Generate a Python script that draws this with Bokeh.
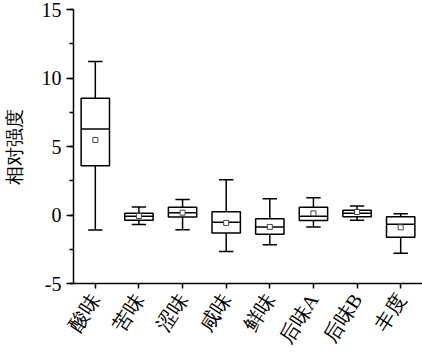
from bokeh.plotting import figure
from bokeh.models import FixedTicker, SingleIntervalTicker, Range1d, ColumnDataSource
from bokeh.embed import file_html
from bokeh.resources import INLINE
import numpy as np

categories = ["酸味", "苦味", "涩味", "咸味", "鲜味", "后味A", "后味B", "丰度"]
whisker_high = [11.2, 0.58, 1.14, 2.57, 1.19, 1.26, 0.65, 0.10]
q3 = [8.53, 0.12, 0.56, 0.24, -0.27, 0.56, 0.34, -0.12]
median = [6.28, -0.09, 0.17, -0.53, -0.87, -0.10, 0.12, -0.68]
mean = [5.48, -0.07, 0.17, -0.58, -0.87, 0.12, 0.22, -0.90]
q1 = [3.59, -0.39, -0.15, -1.31, -1.41, -0.41, -0.12, -1.62]
whisker_low = [-1.10, -0.70, -1.07, -2.67, -2.18, -0.87, -0.39, -2.79]
y_ticks = [-5, 0, 5, 10, 15]
y_tick_labels = ["-5", "0", "5", "10", "15"]

xs = np.arange(1, len(categories) + 1)
box_w = 0.65
cap_w = 0.33

src = ColumnDataSource(dict(
    x=xs, q1=q1, q3=q3, med=median, mean=mean, lo=whisker_low, hi=whisker_high,
    bl=xs - box_w / 2, br=xs + box_w / 2, cl=xs - cap_w / 2, cr=xs + cap_w / 2,
))

FONT = "'Liberation Serif'"

p = figure(width=422, height=356, output_backend="svg", toolbar_location=None,
           x_range=Range1d(0.5, 8.5), y_range=Range1d(-5, 15),
           min_border_left=67, min_border_right=0, min_border_top=9, min_border_bottom=73)
p.outline_line_color = None
p.xgrid.visible = False
p.ygrid.visible = False
p.background_fill_color = "white"
p.border_fill_color = "white"

lw = 1.5
p.segment(x0="x", y0="q3", x1="x", y1="hi", source=src, line_color="black", line_width=lw)
p.segment(x0="x", y0="q1", x1="x", y1="lo", source=src, line_color="black", line_width=lw)
p.segment(x0="cl", y0="hi", x1="cr", y1="hi", source=src, line_color="black", line_width=lw)
p.segment(x0="cl", y0="lo", x1="cr", y1="lo", source=src, line_color="black", line_width=lw)
p.quad(left="bl", right="br", bottom="q1", top="q3", source=src,
       fill_color="white", line_color="black", line_width=lw)
p.segment(x0="bl", y0="med", x1="br", y1="med", source=src, line_color="black", line_width=lw)
p.scatter(x="x", y="mean", source=src, marker="square", size=5,
          fill_color="white", line_color="#444444", line_width=1)

xa = p.xaxis[0]
xa.ticker = FixedTicker(ticks=list(xs))
xa.major_label_overrides = {int(i): c for i, c in zip(xs, categories)}
xa.major_label_orientation = np.deg2rad(57)
xa.minor_tick_line_color = None
xa.major_tick_out = 5
xa.major_tick_in = 0
xa.major_label_text_font = FONT
xa.major_label_text_font_size = "20px"
xa.major_label_text_color = "black"
xa.major_label_standoff = 7
xa.axis_line_width = 1.5
xa.major_tick_line_width = 1.5

ya = p.yaxis[0]
ya.ticker = SingleIntervalTicker(interval=5, num_minor_ticks=2)
ya.major_label_overrides = {t: s for t, s in zip(y_ticks, y_tick_labels)}
ya.major_tick_out = 7
ya.major_tick_in = 0
ya.minor_tick_out = 4
ya.minor_tick_in = 0
ya.major_label_text_font = FONT
ya.major_label_text_font_size = "20px"
ya.major_label_text_color = "black"
ya.major_label_standoff = 5
ya.axis_label = "相对强度"
ya.axis_label_text_font = FONT
ya.axis_label_text_font_style = "normal"
ya.axis_label_text_font_size = "19px"
ya.axis_label_text_color = "black"
ya.axis_label_standoff = 14
ya.axis_line_width = 1.5
ya.major_tick_line_width = 1.5
ya.minor_tick_line_width = 1.5

open("out.html", "w").write(file_html(p, INLINE))
